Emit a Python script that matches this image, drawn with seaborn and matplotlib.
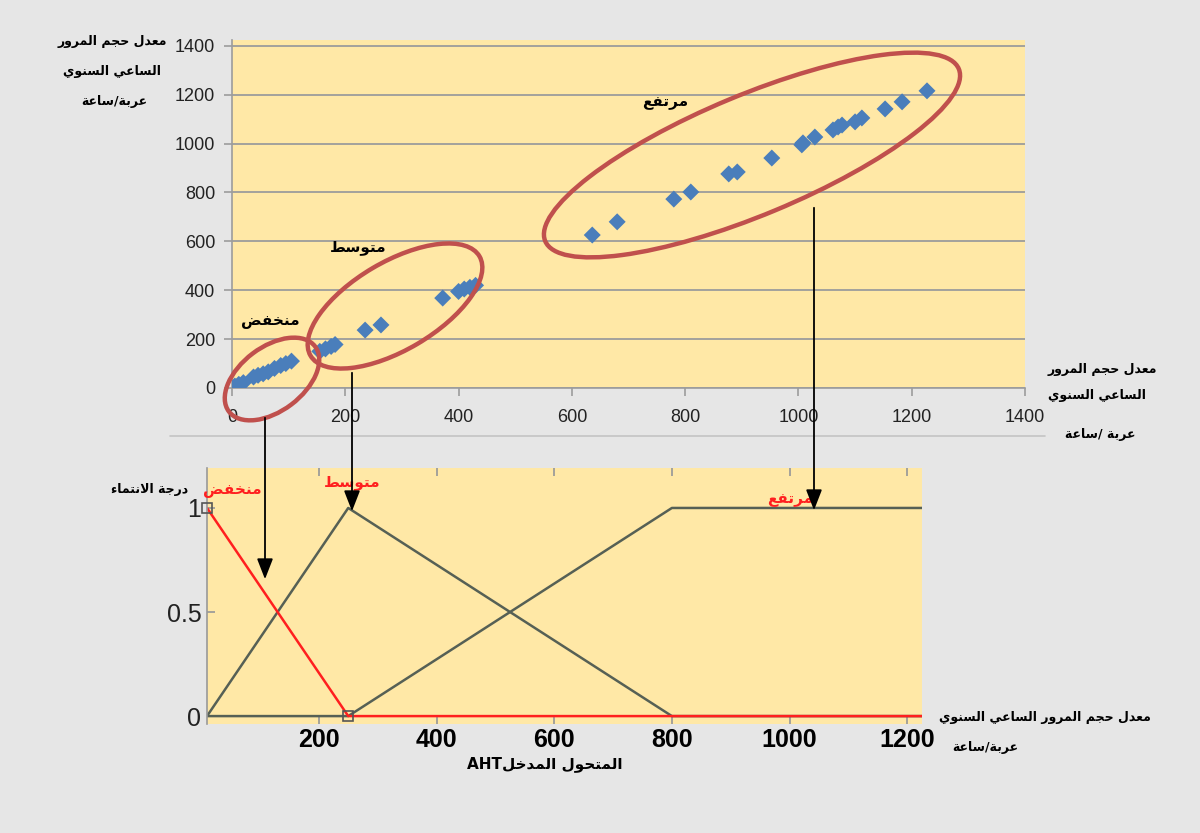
import numpy as np
import pandas as pd
import matplotlib
matplotlib.use("Agg")
import matplotlib.pyplot as plt
import seaborn as sns
from matplotlib.patches import Ellipse, FancyArrowPatch
from matplotlib.lines import Line2D

# ---- top chart: hourly traffic volume (veh/h) ----
low_x = [5, 12, 20, 38, 46, 55, 64, 75, 86, 95, 105]
low_y = [8, 15, 22, 45, 52, 58, 66, 80, 92, 100, 110]
mid_x = [155, 165, 175, 182, 235, 263, 372, 400, 410, 420, 430]
mid_y = [150, 160, 170, 178, 237, 258, 368, 395, 405, 412, 420]
high_x = [636, 680, 780, 810, 877, 892, 953, 1006, 1008, 1029, 1061, 1070,
          1077, 1100, 1112, 1153, 1183, 1227]
high_y = [626, 680, 773, 802, 876, 884, 941, 995, 1003, 1027, 1056, 1068,
          1076, 1089, 1105, 1142, 1171, 1216]
top_ticks = [0, 200, 400, 600, 800, 1000, 1200, 1400]

# ---- bottom chart: membership functions ----
mf_low_x = [10, 250, 1225]
mf_low_y = [1, 0, 0]
mf_mid_x = [10, 250, 800, 1225]
mf_mid_y = [0, 1, 0, 0]
mf_high_x = [10, 250, 800, 1225]
mf_high_y = [0, 0, 1, 1]
bot_xticks = [200, 400, 600, 800, 1000, 1200]
bot_yticks = [0, 0.5, 1]
bot_ylabels = ["0", "0.5", "1"]

# Arabic labels
T_VOL1 = "معدل حجم المرور"
T_VOL2 = "الساعي السنوي"
T_UNIT = "عربة/ساعة"
T_UNIT2 = "عربة /ساعة"
T_LOW = "منخفض"
T_MID = "متوسط"
T_HIGH = "مرتفع"
T_DEG = "درجة الانتماء"
T_VOLFULL = "معدل حجم المرور الساعي السنوي"
T_INPUT = "المتحول المدخل"

AR_FORMS = {
    "ء": ("\ufe80", None, None, None),
    "ا": ("\ufe8d", "\ufe8e", None, None),
    "ب": ("\ufe8f", "\ufe90", "\ufe91", "\ufe92"),
    "ة": ("\ufe93", "\ufe94", None, None),
    "ت": ("\ufe95", "\ufe96", "\ufe97", "\ufe98"),
    "ج": ("\ufe9d", "\ufe9e", "\ufe9f", "\ufea0"),
    "ح": ("\ufea1", "\ufea2", "\ufea3", "\ufea4"),
    "خ": ("\ufea5", "\ufea6", "\ufea7", "\ufea8"),
    "د": ("\ufea9", "\ufeaa", None, None),
    "ر": ("\ufead", "\ufeae", None, None),
    "س": ("\ufeb1", "\ufeb2", "\ufeb3", "\ufeb4"),
    "ض": ("\ufebd", "\ufebe", "\ufebf", "\ufec0"),
    "ط": ("\ufec1", "\ufec2", "\ufec3", "\ufec4"),
    "ع": ("\ufec9", "\ufeca", "\ufecb", "\ufecc"),
    "ف": ("\ufed1", "\ufed2", "\ufed3", "\ufed4"),
    "ل": ("\ufedd", "\ufede", "\ufedf", "\ufee0"),
    "م": ("\ufee1", "\ufee2", "\ufee3", "\ufee4"),
    "ن": ("\ufee5", "\ufee6", "\ufee7", "\ufee8"),
    "و": ("\ufeed", "\ufeee", None, None),
    "ي": ("\ufef1", "\ufef2", "\ufef3", "\ufef4"),
}


def ar(text):
    # contextual shaping + visual (right-to-left) order
    def joins_next(c):
        return c in AR_FORMS and AR_FORMS[c][2] is not None

    def joins_prev(c):
        return c in AR_FORMS and AR_FORMS[c][1] is not None

    out, i, n = [], 0, len(text)
    while i < n:
        c = text[i]
        if c not in AR_FORMS:
            out.append(c)
            i += 1
            continue
        prev = text[i - 1] if i > 0 else ""
        link_prev = joins_next(prev) and joins_prev(c)
        if c == "ل" and i + 1 < n and text[i + 1] == "ا":
            out.append("\ufefc" if link_prev else "\ufefb")
            i += 2
            continue
        nxt = text[i + 1] if i + 1 < n else ""
        link_next = joins_next(c) and joins_prev(nxt)
        iso, fin, ini, med = AR_FORMS[c]
        if link_prev and link_next:
            out.append(med)
        elif link_prev:
            out.append(fin)
        elif link_next:
            out.append(ini)
        else:
            out.append(iso)
        i += 1
    return "".join(reversed(out))


W, H = 1200, 833
BG = "#e6e6e6"
YELLOW = "#ffe8a6"
BLUE = "#4a7ebb"
ELL = "#c0504d"
GRAYLINE = "#566055"
RED = "#ff1f1f"

sns.set_theme(style="white")
plt.rcParams["font.family"] = ["DejaVu Sans"]
NUM_FONT = ["Liberation Sans", "DejaVu Sans"]
NARROW = ["Liberation Sans Narrow", "Liberation Sans", "DejaVu Sans"]


def px(x, y):
    return x / W, 1 - y / H


def ax_rect(l, t, r, b):
    return [l / W, 1 - b / H, (r - l) / W, (b - t) / H]


fig = plt.figure(figsize=(12, 8.33), dpi=100, facecolor=BG)

# ---------------- top scatter ----------------
ax1 = fig.add_axes(ax_rect(232, 40, 1025, 388))
ax1.set_facecolor(YELLOW)
pts = pd.DataFrame({
    "x": low_x + mid_x + high_x,
    "y": low_y + mid_y + high_y,
})
sns.scatterplot(data=pts, x="x", y="y", ax=ax1, marker="D", s=75,
                color=BLUE, edgecolor="none", zorder=3)
ax1.set_xlim(0, 1400)
ax1.set_ylim(0, 1424)
ax1.set_xticks(top_ticks)
ax1.set_yticks(top_ticks)
ax1.set_xticklabels([str(t) for t in top_ticks], fontsize=13, family=NUM_FONT, color="#222222")
ax1.set_yticklabels([str(t) for t in top_ticks], fontsize=13, family=NUM_FONT, color="#222222")
ax1.yaxis.grid(True, color="#9c9c9c", lw=1.3)
ax1.xaxis.grid(False)
ax1.tick_params(axis="x", length=6, width=1.2, color="#9c9c9c", pad=9, bottom=True)
ax1.tick_params(axis="y", length=6, width=1.2, color="#9c9c9c", pad=6, left=True)
for s in ["top", "right"]:
    ax1.spines[s].set_visible(False)
for s in ["left", "bottom"]:
    ax1.spines[s].set_color("#9c9c9c")
    ax1.spines[s].set_linewidth(1.2)
ax1.set_xlabel("")
ax1.set_ylabel("")

# cluster ellipses (pixel centres, semi-axes, angle)
ellipses = [(272, 379, 54, 32, 37), (395, 306, 98, 44, 30.5), (752, 155, 224, 60, 22.6)]
for cx, cy, a, b, ang in ellipses:
    e = Ellipse((cx / 100, (H - cy) / 100), 2 * a / 100, 2 * b / 100, angle=ang,
                transform=fig.dpi_scale_trans, fill=False, ec=ELL, lw=3.2, zorder=5)
    fig.add_artist(e)

# ---------------- bottom membership plot ----------------
ax2 = fig.add_axes(ax_rect(207, 468, 922, 724))
ax2.set_facecolor(YELLOW)
mf = pd.concat([
    pd.DataFrame({"x": mf_high_x, "mu": mf_high_y, "set": "high"}),
    pd.DataFrame({"x": mf_mid_x, "mu": mf_mid_y, "set": "mid"}),
    pd.DataFrame({"x": mf_low_x, "mu": mf_low_y, "set": "low"}),
], ignore_index=True)
sns.lineplot(data=mf[mf["set"] != "low"], x="x", y="mu", hue="set", ax=ax2,
             palette={"high": GRAYLINE, "mid": GRAYLINE}, sort=False,
             estimator=None, units="set", lw=1.8, legend=False)
sns.lineplot(data=mf[mf["set"] == "low"], x="x", y="mu", ax=ax2, color=RED,
             sort=False, estimator=None, lw=1.8, legend=False)
ax2.plot(mf_low_x[:2], mf_low_y[:2], ls="none", marker="s", ms=7,
         mfc="none", mec="#555555", mew=1.2, clip_on=False, zorder=4)
ax2.set_xlim(10, 1225)
ax2.set_ylim(-0.038, 1.192)
ax2.set_xticks(bot_xticks)
ax2.set_xticklabels([str(t) for t in bot_xticks], fontsize=18, fontweight="bold",
                    family=NARROW, color="black")
ax2.set_yticks(bot_yticks)
ax2.set_yticklabels(bot_ylabels, fontsize=18, family=NARROW, color="#222222")
ax2.tick_params(axis="x", direction="in", length=6, color="#999999", pad=3,
                bottom=True, top=True)
ax2.tick_params(axis="y", direction="in", length=6, color="#999999", pad=4, left=True)
ax2.grid(False)
for s in ["top", "right", "bottom"]:
    ax2.spines[s].set_visible(False)
ax2.spines["left"].set_color("#999999")
ax2.spines["left"].set_linewidth(1.2)
ax2.set_xlabel("")
ax2.set_ylabel("")

# separator under the top chart
fig.add_artist(Line2D([170 / W, 1045 / W], [1 - 436 / H] * 2, color="#c4c4c4", lw=1.2))

# arrows linking clusters to membership functions (x, y_start, y_end in pixels)
arrows = [(265, 415, 582), (352, 370, 514), (814, 205, 513)]
for x, y0, y1 in arrows:
    fig.add_artist(FancyArrowPatch(px(x, y0), px(x, y1), transform=fig.transFigure,
                                   arrowstyle="-|>,head_length=0.9,head_width=0.35",
                                   mutation_scale=14, color="black", lw=1.3, zorder=6))

# ---------------- texts ----------------
def txt(x, y, s, size=9, color="black", **kw):
    fig.text(*px(x, y), s, fontsize=size, color=color, fontweight="bold",
             ha="center", va="center", **kw)


txt(112, 41, ar(T_VOL1))
txt(112, 71, ar(T_VOL2))
txt(114, 102, ar(T_UNIT))
txt(1102, 370, ar(T_VOL1))
txt(1097, 396, ar(T_VOL2))
txt(1100, 435, ar(T_UNIT2))
txt(270, 322, ar(T_LOW), size=11)
txt(358, 248, ar(T_MID), size=11)
txt(665, 103, ar(T_HIGH), size=11)

txt(150, 489, ar(T_DEG))
txt(232, 490, ar(T_LOW), size=11, color=RED)
txt(352, 482, ar(T_MID), size=11, color=RED)
txt(790, 500, ar(T_HIGH), size=11, color=RED)
txt(1045, 718, ar(T_VOLFULL))
txt(985, 747, ar(T_UNIT))
txt(545, 764, "AHT" + ar(T_INPUT), size=11)

fig.savefig("out.png", dpi=100, facecolor=BG)
